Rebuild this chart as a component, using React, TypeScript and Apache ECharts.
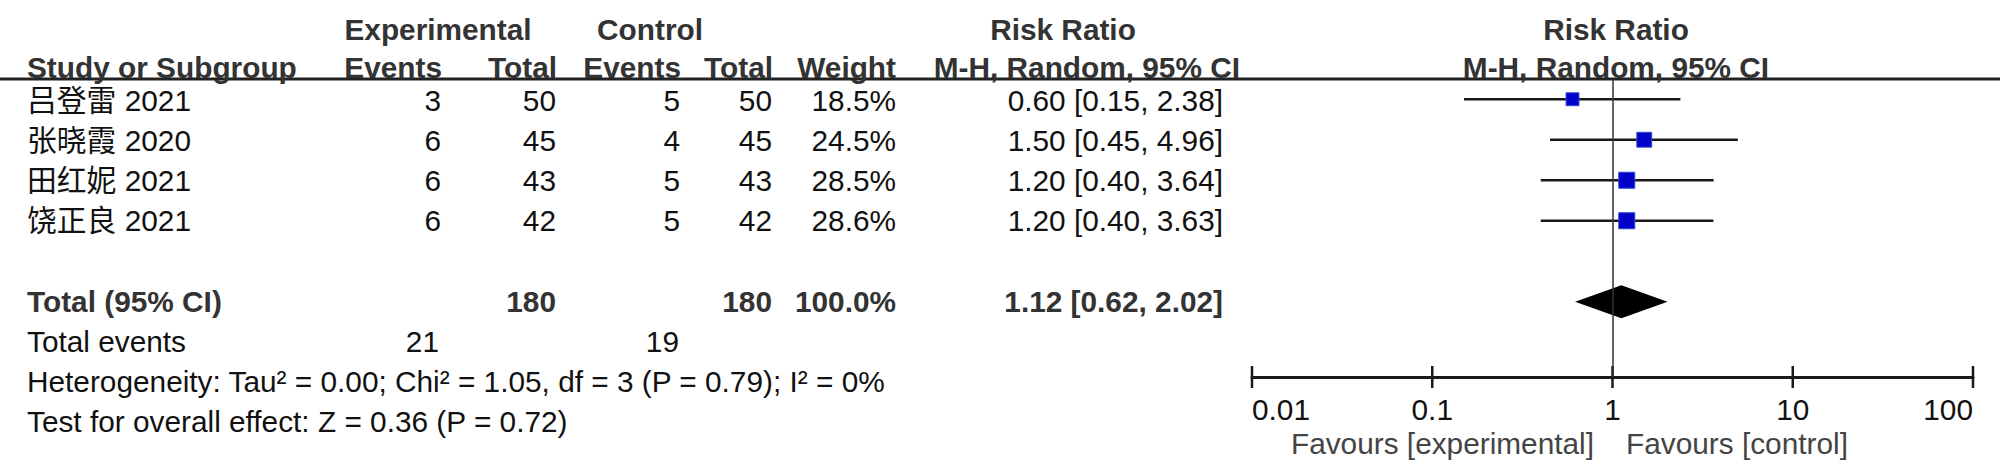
import React, { useEffect, useRef } from 'react';
import * as echarts from 'echarts';

// ---------------- data ----------------
const studies = ['吕登雷 2021', '张晓霞 2020', '田红妮 2021', '饶正良 2021'];
const expEvents = [3, 6, 6, 6];
const expTotal = [50, 45, 43, 42];
const ctrlEvents = [5, 4, 5, 5];
const ctrlTotal = [50, 45, 43, 42];
const weights = [18.5, 24.5, 28.5, 28.6];
const riskRatio = [0.6, 1.5, 1.2, 1.2];
const ciLower = [0.15, 0.45, 0.4, 0.4];
const ciUpper = [2.38, 4.96, 3.64, 3.63];

const pooledRR = 1.12;
const pooledLower = 0.62;
const pooledUpper = 2.02;
const pooledExpTotal = 180;
const pooledCtrlTotal = 180;
const pooledWeight = 100.0;
const totalEventsExp = 21;
const totalEventsCtrl = 19;
const heterogeneityText = 'Heterogeneity: Tau² = 0.00; Chi² = 1.05, df = 3 (P = 0.79); I² = 0%';
const overallEffectText = 'Test for overall effect: Z = 0.36 (P = 0.72)';

const xTickValues = [0.01, 0.1, 1, 10, 100];
const xTickLabels = ['0.01', '0.1', '1', '10', '100'];
const favoursLeft = 'Favours [experimental]';
const favoursRight = 'Favours [control]';

// ---------------- layout ----------------
const FONT = '"Liberation Sans", Arial, "Noto Sans CJK SC", sans-serif';
const FS = 29.8;
const POOLED_ROW = 5;
const TXT_Y0 = 100;
const TXT_STEP = 40.2;
const MARK_STEP = 40.5;
const PLOT_TOP = 79;
const AXIS_Y = 377;
const HEAD = '#333333';
const BODY = '#111111';

const fmt2 = (v: number) => v.toFixed(2);
const ciText = (m: number, l: number, u: number) => `${fmt2(m)} [${fmt2(l)}, ${fmt2(u)}]`;

type Cell = { x: number; row: number; text: string; align: string; bold?: boolean; color?: string };
const cells: Cell[] = [];
const add = (x: number, row: number, text: string, align: string, bold = false, color = BODY) =>
  cells.push({ x, row, text, align, bold, color });

const H1 = (29 - TXT_Y0) / TXT_STEP;
const H2 = (67 - TXT_Y0) / TXT_STEP;
const FAV = (443 - TXT_Y0) / TXT_STEP;

// headers
add(438, H1, 'Experimental', 'center', true, HEAD);
add(650, H1, 'Control', 'center', true, HEAD);
add(1063, H1, 'Risk Ratio', 'center', true, HEAD);
add(1616, H1, 'Risk Ratio', 'center', true, HEAD);
add(27, H2, 'Study or Subgroup', 'left', true, HEAD);
add(442, H2, 'Events', 'right', true, HEAD);
add(557, H2, 'Total', 'right', true, HEAD);
add(681, H2, 'Events', 'right', true, HEAD);
add(773, H2, 'Total', 'right', true, HEAD);
add(896, H2, 'Weight', 'right', true, HEAD);
add(1240, H2, 'M-H, Random, 95% CI', 'right', true, HEAD);
add(1616, H2, 'M-H, Random, 95% CI', 'center', true, HEAD);

studies.forEach((s, i) => {
  add(27, i, s, 'left');
  add(441, i, String(expEvents[i]), 'right');
  add(556, i, String(expTotal[i]), 'right');
  add(680, i, String(ctrlEvents[i]), 'right');
  add(772, i, String(ctrlTotal[i]), 'right');
  add(896, i, `${weights[i].toFixed(1)}%`, 'right');
  add(1223, i, ciText(riskRatio[i], ciLower[i], ciUpper[i]), 'right');
});

add(27, POOLED_ROW, 'Total (95% CI)', 'left', true, HEAD);
add(556, POOLED_ROW, String(pooledExpTotal), 'right', true, HEAD);
add(772, POOLED_ROW, String(pooledCtrlTotal), 'right', true, HEAD);
add(896, POOLED_ROW, `${pooledWeight.toFixed(1)}%`, 'right', true, HEAD);
add(1223, POOLED_ROW, ciText(pooledRR, pooledLower, pooledUpper), 'right', true, HEAD);

add(27, POOLED_ROW + 1, 'Total events', 'left');
add(439, POOLED_ROW + 1, String(totalEventsExp), 'right');
add(679, POOLED_ROW + 1, String(totalEventsCtrl), 'right');
add(27, POOLED_ROW + 2, heterogeneityText, 'left');
add(27, POOLED_ROW + 3, overallEffectText, 'left');

add(1594, FAV, favoursLeft, 'right', false, '#444444');
add(1626, FAV, favoursRight, 'left', false, '#444444');

const tickLabel = (v: number) => {
  let best = 0;
  let bd = Infinity;
  xTickValues.forEach((t, k) => {
    const d = Math.abs(Math.log10(v) - Math.log10(t));
    if (d < bd) { bd = d; best = k; }
  });
  return xTickLabels[best];
};

const Y_MIN = -0.5;
const Y_MAX = (AXIS_Y - PLOT_TOP) / MARK_STEP + Y_MIN;

export default function App() {
  const ref = useRef<HTMLDivElement>(null);
  useEffect(() => {
    document.body.style.margin = '0';
    if (!ref.current) return;
    const chart = echarts.init(ref.current, undefined, { renderer: 'svg' });
    chart.setOption({
      animation: false,
      backgroundColor: '#ffffff',
      grid: [
        { left: 1252, top: PLOT_TOP, width: 721, height: AXIS_Y - PLOT_TOP, containLabel: false },
        { left: 0, top: 0, width: 2000, height: 476, containLabel: false },
      ],
      xAxis: [
        {
          type: 'log',
          logBase: 10,
          min: 0.01,
          max: 100,
          gridIndex: 0,
          position: 'bottom',
          splitLine: { show: false },
          axisLine: { show: true, onZero: false, lineStyle: { color: '#1a1a1a', width: 3 } },
          axisTick: { show: false },
          axisLabel: {
            show: true,
            fontSize: FS,
            fontFamily: FONT,
            color: '#111111',
            margin: 18,
            formatter: (v: number) => tickLabel(v),
            alignMinLabel: 'left',
            alignMaxLabel: 'right',
            showMinLabel: true,
            showMaxLabel: true,
          },
        },
        { type: 'value', gridIndex: 1, min: 0, max: 2000, show: false },
      ],
      yAxis: [
        { type: 'value', gridIndex: 0, inverse: true, min: Y_MIN, max: Y_MAX, show: false },
        {
          type: 'value',
          gridIndex: 1,
          inverse: true,
          min: -TXT_Y0 / TXT_STEP,
          max: (476 - TXT_Y0) / TXT_STEP,
          show: false,
        },
      ],
      graphic: [
        {
          type: 'line',
          shape: { x1: 0, y1: PLOT_TOP, x2: 2000, y2: PLOT_TOP },
          style: { stroke: '#222222', lineWidth: 3 },
          z: 1,
        },
      ],
      series: [
        {
          type: 'custom',
          name: 'ticks',
          xAxisIndex: 0,
          yAxisIndex: 0,
          clip: false,
          silent: true,
          encode: { x: 0 },
          data: xTickValues.map((v) => [v]),
          renderItem: (params: any, api: any) => {
            const p = api.coord([api.value(0), Y_MAX]);
            return {
              type: 'line',
              shape: { x1: p[0], y1: p[1] - 11, x2: p[0], y2: p[1] + 11 },
              style: { stroke: '#1a1a1a', lineWidth: 2.5 },
            };
          },
          z: 2,
        },
        {
          type: 'custom',
          name: 'ci',
          xAxisIndex: 0,
          yAxisIndex: 0,
          clip: false,
          encode: { x: [0, 1], y: 2 },
          data: studies.map((_, i) => [ciLower[i], ciUpper[i], i]),
          renderItem: (params: any, api: any) => {
            const a = api.coord([api.value(0), api.value(2)]);
            const b = api.coord([api.value(1), api.value(2)]);
            return {
              type: 'line',
              shape: { x1: a[0], y1: a[1], x2: b[0], y2: b[1] },
              style: { stroke: '#1a1a1a', lineWidth: 2.5 },
            };
          },
          markLine: {
            silent: true,
            symbol: ['none', 'none'],
            label: { show: false },
            lineStyle: { color: '#333333', width: 1.5, type: 'solid' },
            data: [{ xAxis: 1 }],
          },
          z: 2,
        },
        {
          type: 'custom',
          name: 'squares',
          xAxisIndex: 0,
          yAxisIndex: 0,
          clip: false,
          encode: { x: 0, y: 1 },
          data: studies.map((_, i) => [riskRatio[i], i, weights[i]]),
          renderItem: (params: any, api: any) => {
            const p = api.coord([api.value(0), api.value(1)]);
            const s = 3.0 * Math.sqrt(api.value(2));
            return {
              type: 'rect',
              shape: { x: p[0] - s / 2, y: p[1] - s / 2, width: s, height: s },
              style: { fill: '#0000c8', stroke: '#3048d8', lineWidth: 1 },
            };
          },
          z: 3,
        },
        {
          type: 'custom',
          name: 'pooled',
          xAxisIndex: 0,
          yAxisIndex: 0,
          clip: false,
          encode: { x: [0, 1, 2], y: 3 },
          data: [[pooledLower, pooledRR, pooledUpper, POOLED_ROW]],
          renderItem: (params: any, api: any) => {
            const r = api.value(3);
            const l = api.coord([api.value(0), r]);
            const m1 = api.coord([api.value(1), r - 0.41]);
            const u = api.coord([api.value(2), r]);
            const m2 = api.coord([api.value(1), r + 0.41]);
            return {
              type: 'polygon',
              shape: { points: [l, m1, u, m2] },
              style: { fill: '#000000' },
            };
          },
          z: 3,
        },
        {
          type: 'custom',
          name: 'table',
          xAxisIndex: 1,
          yAxisIndex: 1,
          clip: false,
          silent: true,
          encode: { x: 0, y: 1 },
          data: cells.map((c, k) => [c.x, c.row, k]),
          renderItem: (params: any, api: any) => {
            const c = cells[api.value(2)];
            const p = api.coord([api.value(0), api.value(1)]);
            return {
              type: 'text',
              x: p[0],
              y: p[1],
              style: {
                text: c.text,
                fill: c.color,
                fontSize: FS,
                fontFamily: FONT,
                fontWeight: c.bold ? 'bold' : 'normal',
                align: c.align,
                verticalAlign: 'middle',
              },
            };
          },
          z: 4,
        },
      ],
    });
    return () => chart.dispose();
  }, []);
  return (
    <div
      ref={ref}
      style={{ position: 'absolute', left: 0, top: 0, width: 2000, height: 476, background: '#fff' }}
    />
  );
}
